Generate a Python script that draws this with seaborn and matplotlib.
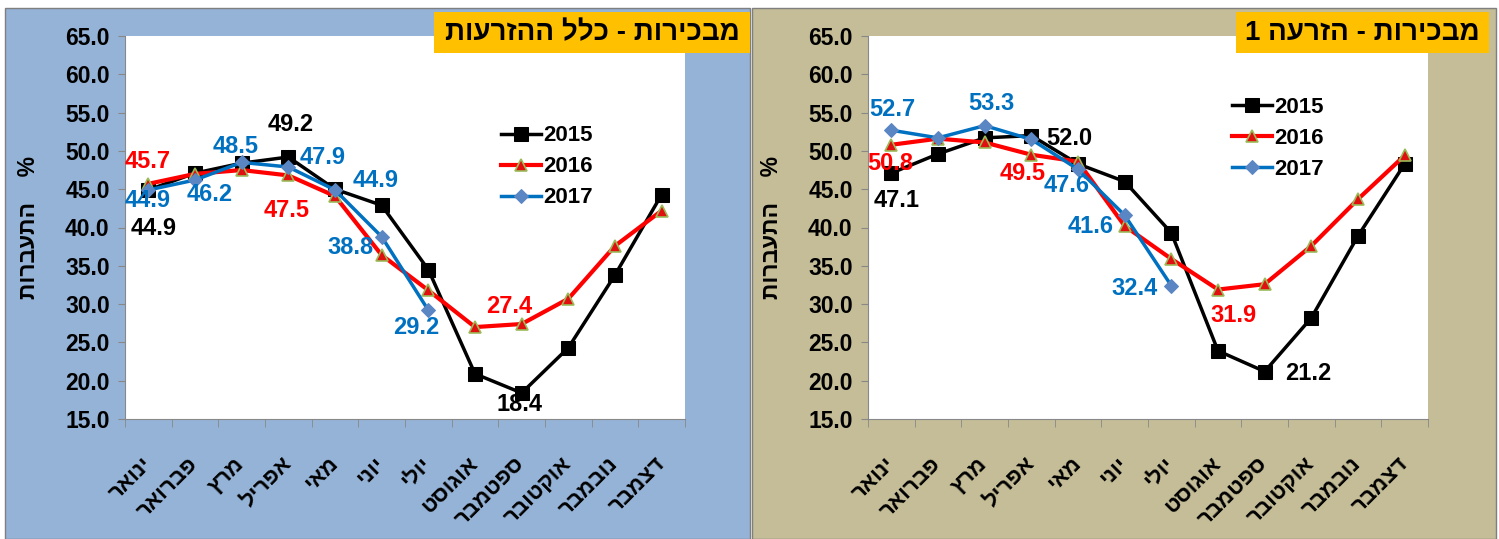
import numpy as np
import pandas as pd
import matplotlib.pyplot as plt
import seaborn as sns
from matplotlib.patches import Rectangle

# months (logical Hebrew order)
months = ['ינואר', 'פברואר', 'מרץ', 'אפריל', 'מאי', 'יוני', 'יולי',
          'אוגוסט', 'ספטמבר', 'אוקטובר', 'נובמבר', 'דצמבר']
years = ['2015', '2016', '2017']

# left panel: all inseminations
all_2015 = [44.9, 47.1, 48.4, 49.2, 45.0, 42.9, 34.5, 20.9, 18.4, 24.3, 33.8, 44.3]
all_2016 = [45.7, 47.0, 47.5, 46.8, 44.1, 36.4, 31.8, 27.0, 27.4, 30.7, 37.6, 42.2]
all_2017 = [44.9, 46.2, 48.5, 47.9, 44.9, 38.8, 29.2]

# right panel: first insemination
first_2015 = [47.1, 49.6, 51.7, 52.0, 48.3, 46.0, 39.3, 23.9, 21.2, 28.2, 38.9, 48.3]
first_2016 = [50.8, 51.6, 51.1, 49.5, 48.6, 40.2, 35.9, 31.9, 32.6, 37.6, 43.7, 49.4]
first_2017 = [52.7, 51.7, 53.3, 51.5, 47.6, 41.6, 32.4]

title_all = 'מבכירות - כלל ההזרעות'
title_first = 'מבכירות - הזרעה 1'
ylab = 'התעברות'

# data labels: (year, month index, offset px right, offset px down)
labels_all = [('2015', 0, 5, 39), ('2015', 3, 2, -33), ('2015', 8, -2, 12),
              ('2016', 0, -1, -22), ('2016', 2, 45, 40), ('2016', 8, -12, -18),
              ('2017', 0, -1, 11), ('2017', 1, 15, 14), ('2017', 2, -6, -16),
              ('2017', 3, 34, -9), ('2017', 4, 41, -9), ('2017', 5, -31, 11),
              ('2017', 6, -12, 17)]
labels_first = [('2015', 0, 5, 27), ('2015', 3, 38, 3), ('2015', 8, 44, 2),
                ('2016', 0, -1, 19), ('2016', 3, -9, 19), ('2016', 7, 15, 26),
                ('2017', 0, 1, -21), ('2017', 2, 7, -22), ('2017', 4, -11, 16),
                ('2017', 5, -34, 11), ('2017', 6, -37, 3)]

styles = {
    '2015': dict(color='black', marker='s', markersize=10, markerfacecolor='black',
                 markeredgecolor='black', linewidth=2.5),
    '2016': dict(color='#FF0000', marker='^', markersize=8, markerfacecolor='#E01010',
                 markeredgecolor='#9BBB59', markeredgewidth=1.2, linewidth=3.0),
    '2017': dict(color='#0070C0', marker='D', markersize=7, markerfacecolor='#5A86C4',
                 markeredgecolor='#5A86C4', linewidth=2.5),
}
label_colors = {'2015': 'black', '2016': '#FF0000', '2017': '#0070C0'}


def heb(s):
    return s[::-1]


def make_df(v15, v16, v17):
    rows = []
    for year, vals in zip(years, [v15, v16, v17]):
        for m, v in zip(months, vals):
            rows.append({'month': m, 'year': year, 'value': v})
    return pd.DataFrame(rows)


def draw_panel(fig, ax, df, labels, legend_anchor):
    for year in years:
        sub = df[df['year'] == year]
        sns.lineplot(data=sub, x='month', y='value', ax=ax, sort=False,
                     label=year, **styles[year])
    for year, i, dx, dy in labels:
        v = df[(df['year'] == year) & (df['month'] == months[i])]['value'].iloc[0]
        ax.annotate(f'{v:.1f}', xy=(i, v), xytext=(dx * 0.72, -dy * 0.72),
                    textcoords='offset points', ha='center', va='center',
                    color=label_colors[year], fontsize=17, fontweight='bold')
    ax.set_xlim(-0.5, 11.5)
    ax.set_ylim(15, 65)
    ax.set_yticks(range(15, 66, 5))
    ax.set_yticklabels([f'{t:.1f}' for t in range(15, 66, 5)], fontsize=16.5, fontweight='bold')
    ax.set_xticks(range(12))
    ax.set_xticklabels([heb(m) for m in months], rotation=45, ha='right', va='center',
                       rotation_mode='anchor', fontsize=16, fontweight='bold')
    ax.set_xticks(np.arange(-0.5, 12, 1), minor=True)
    ax.tick_params(axis='x', which='major', length=0, pad=30)
    ax.tick_params(axis='x', which='minor', length=6, color='#888888')
    ax.tick_params(axis='y', length=5, color='#888888', pad=6)
    ax.set_xlabel('')
    ax.set_ylabel(heb(ylab) + '    %', fontsize=16.5, fontweight='bold', labelpad=18)
    for s in ['top', 'right']:
        ax.spines[s].set_visible(False)
    for s in ['left', 'bottom']:
        ax.spines[s].set_color('#888888')
    ax.set_facecolor('white')
    ax.legend(loc='upper left', bbox_to_anchor=legend_anchor, frameon=False,
              prop={'weight': 'bold', 'size': 16}, handlelength=1.8,
              handletextpad=0.1, labelspacing=0.45, borderaxespad=0)


plt.rcParams['font.family'] = ['Liberation Sans', 'DejaVu Sans']
plt.rcParams['font.weight'] = 'bold'

W, H = 1499, 539
fig = plt.figure(figsize=(W / 100, H / 100), dpi=100)
fig.patch.set_facecolor('white')

# panel backgrounds
fig.add_artist(Rectangle((5 / W, 0), 745 / W, (H - 8) / H, transform=fig.transFigure,
                         facecolor='#95B3D7', edgecolor='#7F7F7F', lw=1, zorder=-2))
fig.add_artist(Rectangle((752 / W, 0), 744 / W, (H - 8) / H, transform=fig.transFigure,
                         facecolor='#C4BD97', edgecolor='#7F7F7F', lw=1, zorder=-2))

ax1 = fig.add_axes([125 / W, (H - 419) / H, 560 / W, 383 / H])
ax2 = fig.add_axes([868 / W, (H - 419) / H, 560 / W, 383 / H])

draw_panel(fig, ax1, make_df(all_2015, all_2016, all_2017), labels_all, (0.655, 0.79))
draw_panel(fig, ax2, make_df(first_2015, first_2016, first_2017), labels_first, (0.635, 0.865))

# title boxes
for x0, x1, t in [(434, 750, title_all), (1236, 1489, title_first)]:
    fig.add_artist(Rectangle((x0 / W, (H - 53) / H), (x1 - x0) / W, 41 / H,
                             transform=fig.transFigure, facecolor='#FFC000',
                             edgecolor='none', zorder=5))
    fig.text((x0 + x1) / 2 / W, (H - 33) / H, heb(t), ha='center', va='center',
             fontsize=20, fontweight='bold', color='black', zorder=6)

fig.savefig('out.png', dpi=100)
